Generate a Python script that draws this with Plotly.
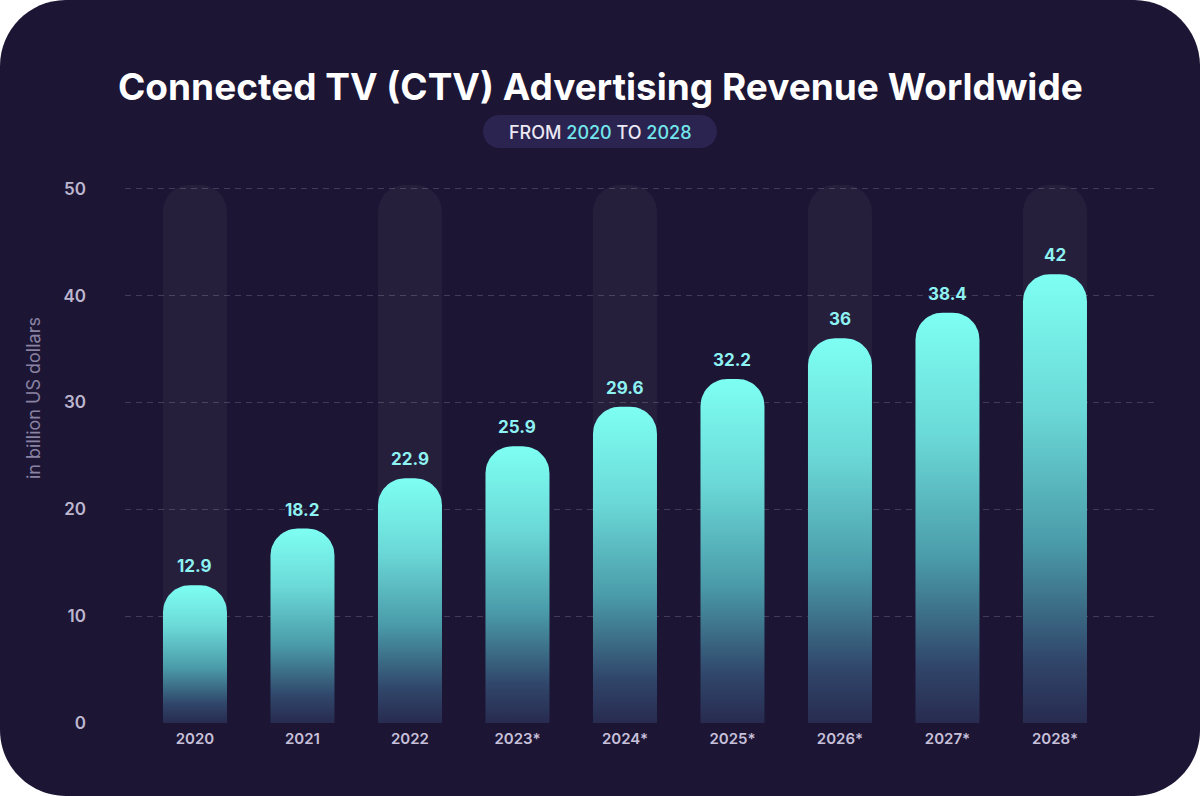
import math
import plotly.graph_objects as go

# ---------------- data ----------------
years = ["2020", "2021", "2022", "2023*", "2024*", "2025*", "2026*", "2027*", "2028*"]
revenue = [12.9, 18.2, 22.9, 25.9, 29.6, 32.2, 36, 38.4, 42]
highlight = [True, False, True, False, True, False, True, False, True]  # faint backdrop columns
y_ticks = [0, 10, 20, 30, 40, 50]
title_text = "Connected TV (CTV) Advertising Revenue Worldwide"
subtitle_from, subtitle_to = "2020", "2028"
y_title = "in billion US dollars"

# ---------------- geometry (pixels) ----------------
W, H = 1200, 796
PL, PR = 125, 1157          # plot area left/right in px
PT, PB = 178, 723           # plot area top/bottom in px
Y_MAX = 51.0
X_MIN, X_MAX = -0.651, 8.949
BAR_W_PX = 64
RADIUS_PX = 27
BG_TOP = 50.35

px_per_x = (PR - PL) / (X_MAX - X_MIN)
px_per_y = (PB - PT) / Y_MAX
half_w = BAR_W_PX / 2 / px_per_x
rx = RADIUS_PX / px_per_x
ry = RADIUS_PX / px_per_y


def arc(cx, cy, a0, a1, n=14):
    pts = []
    for k in range(n + 1):
        a = a0 + (a1 - a0) * k / n
        pts.append((cx + rx * math.cos(a), cy + ry * math.sin(a)))
    return pts


def bar_path(cx, top, bottom_round=False):
    pts = []
    if bottom_round:
        # bottom-right corner then bottom-left corner
        pts += arc(cx + half_w - rx, ry, 0, -math.pi / 2)
        pts += arc(cx - half_w + rx, ry, -math.pi / 2, -math.pi)
    else:
        pts += [(cx + half_w, 0), (cx - half_w, 0)]
    pts += arc(cx - half_w + rx, top - ry, math.pi, math.pi / 2)
    pts += arc(cx + half_w - rx, top - ry, math.pi / 2, 0)
    pts.append(pts[0])
    return [p[0] for p in pts], [p[1] for p in pts]


fig = go.Figure()

# faint backdrop columns
for i, hl in enumerate(highlight):
    if not hl:
        continue
    xs, ys = bar_path(i, BG_TOP, bottom_round=True)
    fig.add_trace(go.Scatter(x=xs, y=ys, mode="lines", fill="toself",
                             fillcolor="rgba(255,255,255,0.045)",
                             line=dict(width=0, color="rgba(0,0,0,0)"),
                             hoverinfo="skip", showlegend=False))

# gradient bars
for i, (yr, v) in enumerate(zip(years, revenue)):
    xs, ys = bar_path(i, v)
    fig.add_trace(go.Scatter(
        x=xs, y=ys, mode="lines", fill="toself",
        line=dict(width=0, color="rgba(0,0,0,0)"),
        fillgradient=dict(type="vertical",
                          colorscale=[[0.0, "#282b50"], [0.14, "#30466a"],
                                      [0.4, "#4a9ba9"], [0.7, "#6bd9d7"],
                                      [1.0, "#7efff3"]],
                          start=0, stop=v),
        name=yr, showlegend=False, hoverinfo="skip"))

# value labels
for i, v in enumerate(revenue):
    fig.add_annotation(x=i, y=v, text=f"{v:g}", showarrow=False, yanchor="bottom",
                       yshift=7, font=dict(family="Inter", size=17, color="#8ef2f2", weight=700))


# card background and pill (paper coords)
def to_px_x(px):
    return (px - PL) / (PR - PL)


def to_px_y(py):
    return (PB - py) / (PB - PT)


def rounded_rect(x0, y0, x1, y1, r):
    k = 0.5523 * r
    P = lambda x, y: f"{to_px_x(x):.5f},{to_px_y(y):.5f}"
    return (f"M {P(x0 + r, y0)} L {P(x1 - r, y0)} "
            f"C {P(x1 - r + k, y0)} {P(x1, y0 + r - k)} {P(x1, y0 + r)} "
            f"L {P(x1, y1 - r)} "
            f"C {P(x1, y1 - r + k)} {P(x1 - r + k, y1)} {P(x1 - r, y1)} "
            f"L {P(x0 + r, y1)} "
            f"C {P(x0 + r - k, y1)} {P(x0, y1 - r + k)} {P(x0, y1 - r)} "
            f"L {P(x0, y0 + r)} "
            f"C {P(x0, y0 + r - k)} {P(x0 + r - k, y0)} {P(x0 + r, y0)} Z")


fig.add_shape(type="path", xref="paper", yref="paper", layer="below",
              path=rounded_rect(0, 0, W, H, 66), fillcolor="#1c1534", line=dict(width=0))
fig.add_shape(type="path", xref="paper", yref="paper", layer="below",
              path=rounded_rect(483, 115, 717, 148, 16.5), fillcolor="#2b2450", line=dict(width=0))

# title & subtitle
fig.add_annotation(xref="paper", yref="paper", x=to_px_x(600), y=to_px_y(87),
                   text=title_text, showarrow=False, xanchor="center", yanchor="middle",
                   font=dict(family="Inter", size=37, color="#ffffff", weight=700))
fig.add_annotation(xref="paper", yref="paper", x=to_px_x(600), y=to_px_y(132),
                   text=(f"FROM <span style='color:#72e6ec'>{subtitle_from}</span> TO "
                         f"<span style='color:#72e6ec'>{subtitle_to}</span>"),
                   showarrow=False, xanchor="center", yanchor="middle",
                   font=dict(family="Inter", size=18, color="#ece8f4", weight=500))
fig.add_annotation(xref="paper", yref="paper", x=to_px_x(33), y=to_px_y(398),
                   text=y_title, textangle=-90, showarrow=False,
                   xanchor="center", yanchor="middle",
                   font=dict(family="Inter", size=18, color="#8a83a3"))

fig.update_layout(
    width=W, height=H,
    margin=dict(l=PL, r=W - PR, t=PT, b=H - PB, pad=0),
    paper_bgcolor="#ffffff",
    plot_bgcolor="rgba(0,0,0,0)",
    showlegend=False,
    xaxis=dict(range=[X_MIN, X_MAX], tickmode="array", tickvals=list(range(len(years))),
               ticktext=years, showgrid=False, zeroline=False, showline=False,
               ticks="", ticklabelstandoff=5, fixedrange=True,
               tickfont=dict(family="Inter", size=15, color="#c7c0da", weight=600)),
    yaxis=dict(range=[0, Y_MAX], tickmode="array", tickvals=y_ticks,
               ticktext=[str(t) for t in y_ticks],
               showgrid=True, gridcolor="rgba(255,255,255,0.17)", griddash="6px,5px",
               gridwidth=1, zeroline=False, showline=False, ticks="",
               ticklabelstandoff=38, fixedrange=True,
               tickfont=dict(family="Inter", size=17, color="#bdb6cf", weight=600)),
)

fig.write_html("out.html", config={"displayModeBar": False},
               post_script="document.body.style.margin='0';document.body.style.overflow='hidden';")
